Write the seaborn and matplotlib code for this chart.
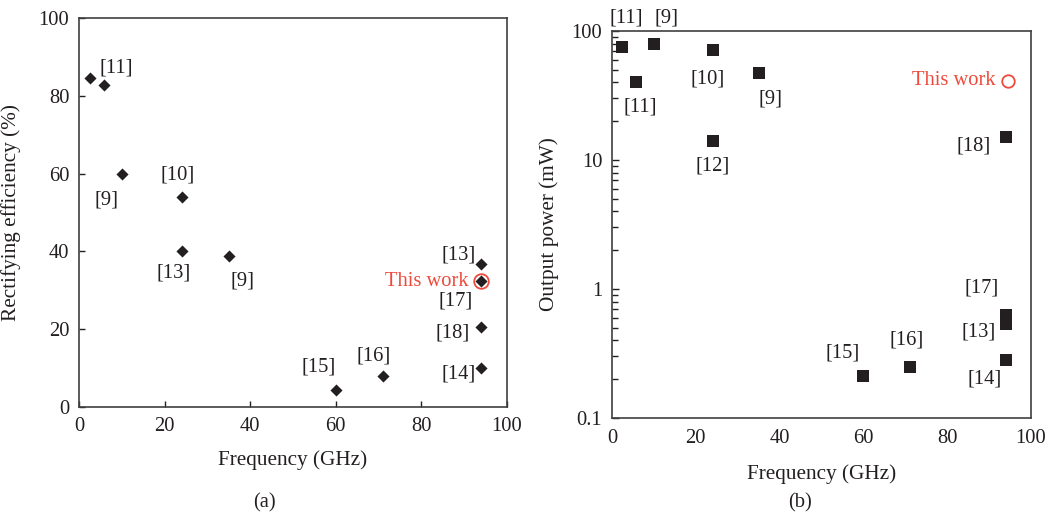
import matplotlib
matplotlib.use("Agg")
import matplotlib.pyplot as plt
import seaborn as sns
import pandas as pd

# (a) rectifying efficiency vs frequency
freq_a = [2.45, 5.8, 10, 24, 24, 35, 60, 71, 94, 94, 94, 94]
eff_a = [84.5, 82.8, 60, 54, 40, 38.7, 4.3, 8, 36.7, 32.3, 20.5, 10]
this_a = (94, 32.3)

# (b) output power vs frequency
freq_b = [2.45, 5.8, 10, 24, 24, 35, 94, 60, 71, 94, 94, 94]
power_b = [75, 40.5, 80, 71, 14, 47, 15, 0.213, 0.247, 0.63, 0.535, 0.28]
this_b = (94.5, 41)

# reference labels and where they sit
labels_a = ["[11]", "[9]", "[10]", "[13]", "[9]", "[15]", "[16]", "[13]", "[17]", "[18]", "[14]"]
lab_xa = [8.6, 6.5, 23.1, 22.1, 38.1, 55.9, 68.9, 88.6, 88.1, 87.4, 88.6]
lab_ya = [87.1, 53.2, 59.6, 34.4, 32.5, 10.2, 13.1, 39.1, 27.3, 18.9, 8.6]

labels_b = ["[11]", "[9]", "[11]", "[10]", "[9]", "[12]", "[18]", "[17]", "[13]", "[14]", "[15]", "[16]"]
lab_xb = [3.3, 13.1, 6.7, 22.9, 37.8, 24.1, 86.3, 88.1, 87.6, 89.0, 55.0, 70.4]
lab_yb = [127, 127, 25.9, 42.5, 29.7, 9.0, 12.9, 1.02, 0.467, 0.2, 0.317, 0.40]

sns.set_theme(style="ticks")
plt.rcParams["font.family"] = ["Liberation Serif", "DejaVu Serif"]

ink = "#231f20"
red = "#ee4a3b"
fs = 14.8
fl = 15.3

fig = plt.figure(figsize=(10.51, 5.15), dpi=100)
ax1 = fig.add_axes([0.0752, 0.2097, 0.4072, 0.7553])
ax2 = fig.add_axes([0.5823, 0.1883, 0.3987, 0.7515])

df_a = pd.DataFrame({"f": freq_a, "v": eff_a})
sns.scatterplot(data=df_a, x="f", y="v", marker="D", s=38, color=ink,
                edgecolor=ink, linewidth=0, ax=ax1, zorder=3)
ax1.plot(*this_a, marker="o", ms=10.5, mfc="none", mec=red, mew=1.3, zorder=2)
ax1.text(this_a[0] - 2.9, this_a[1], "This work", color=red, fontsize=fs,
         ha="right", va="center")
for t, x, y in zip(labels_a, lab_xa, lab_ya):
    ax1.text(x, y, t, color=ink, fontsize=fs, ha="center", va="center")
ax1.set_xlim(0, 100)
ax1.set_ylim(0, 100)
ax1.set_xticks(range(0, 101, 20))
ax1.set_yticks(range(0, 101, 20))
ax1.set_xlabel("Frequency (GHz)", fontsize=fl, color=ink)
ax1.set_ylabel("Rectifying efficiency (%)", fontsize=fl, color=ink)
ax1.xaxis.set_label_coords(0.5, -0.11)
ax1.yaxis.set_label_coords(-0.135, 0.5)
ax1.tick_params(direction="in", length=4, width=1, colors=ink, labelsize=fs, pad=7)

df_b = pd.DataFrame({"f": freq_b, "v": power_b})
sns.scatterplot(data=df_b, x="f", y="v", marker="s", s=70, color=ink,
                edgecolor=ink, linewidth=0, ax=ax2, zorder=3)
ax2.plot(*this_b, marker="o", ms=9, mfc="none", mec=red, mew=1.3, zorder=2)
ax2.text(this_b[0] - 3.0, this_b[1], "This work", color=red, fontsize=fs,
         ha="right", va="center")
for t, x, y in zip(labels_b, lab_xb, lab_yb):
    ax2.text(x, y, t, color=ink, fontsize=fs, ha="center", va="center", clip_on=False)
ax2.set_yscale("log")
ax2.set_xlim(0, 100)
ax2.set_ylim(0.1, 100)
ax2.set_xticks(range(0, 101, 20))
ax2.set_yticks([0.1, 1, 10, 100])
ax2.set_yticklabels(["0.1", "1", "10", "100"])
ax2.set_xlabel("Frequency (GHz)", fontsize=fl, color=ink)
ax2.set_ylabel("Output power (mW)", fontsize=fl, color=ink)
ax2.xaxis.set_label_coords(0.5, -0.12)
ax2.yaxis.set_label_coords(-0.126, 0.5)
ax2.tick_params(axis="y", which="major", direction="in", length=5, width=1,
                colors=ink, labelsize=fs, pad=7)
ax2.tick_params(axis="y", which="minor", direction="in", length=4, width=1, colors=ink)
ax2.tick_params(axis="x", direction="in", length=0, colors=ink, labelsize=fs, pad=8)

for ax in (ax1, ax2):
    for sp in ax.spines.values():
        sp.set_visible(True)
        sp.set_color("#404040")
        sp.set_linewidth(1.2)

fig.text(0.252, 0.023, "(a)", fontsize=fs, color=ink, ha="center", va="center")
fig.text(0.761, 0.023, "(b)", fontsize=fs, color=ink, ha="center", va="center")

fig.savefig("out.png", dpi=100)
